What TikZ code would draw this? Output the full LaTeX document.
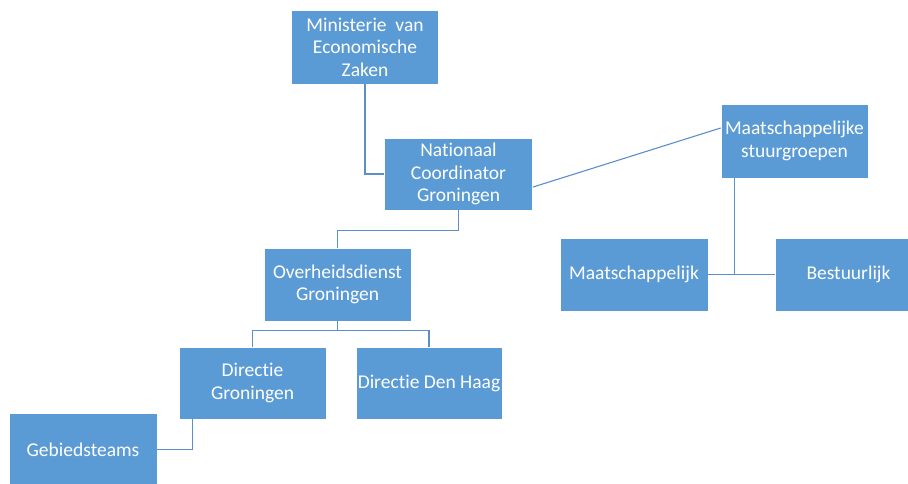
\documentclass[tikz,border=0pt]{standalone}
\usepackage{fontspec}
\setmainfont[Ligatures=NoCommon]{Carlito}
\usetikzlibrary{calc}
\definecolor{boxblue}{HTML}{5B9BD5}
\definecolor{lineblue}{HTML}{5B8FC9}
\tikzset{
  box/.style={fill=boxblue, draw=white, line width=0.6pt, text=white, align=center,
    inner sep=0pt, font=\fontsize{19.5}{22.5}\selectfont},
  conn/.style={draw=lineblue, line width=1.1pt}
}
\begin{document}
\begin{tikzpicture}[x=1pt,y=-1pt]
\useasboundingbox (0,0) rectangle (908,483);
\clip (0,0) rectangle (908,483);
\fill[white] (0,0) rectangle (908,483);
\node[box, minimum width=147, minimum height=74] (min) at (365,47) {Ministerie~ van\\Economische\\Zaken};
\node[box, minimum width=148, minimum height=72] (ncg) at (458.5,174) {Nationaal\\Coordinator\\Groningen};
\node[box, minimum width=147, minimum height=74] (stuur) at (794.5,141) {Maatschappelijke\\stuurgroepen};
\node[box, minimum width=147, minimum height=73] (ovh) at (337.5,284.5) {Overheidsdienst\\Groningen};
\node[box, minimum width=148, minimum height=73] (maat) at (634,274.5) {Maatschappelijk};
\node[box, minimum width=147, minimum height=73] (best) at (848.5,274.5) {Bestuurlijk};
\node[box, minimum width=147, minimum height=72] (dg) at (252.5,383) {Directie\\Groningen};
\node[box, minimum width=146, minimum height=72] (ddh) at (429,383) {Directie Den Haag};
\node[box, minimum width=148, minimum height=73] (geb) at (83,449.5) {Gebiedsteams};

\draw[conn] (min.south) |- (ncg.west);
\draw[conn] (ncg.-10) -- (stuur.170);
\draw[conn] (ncg.south) -- ++(0,20) -| (ovh.north);
\draw[conn] (ovh.south) -- ++(0,9) coordinate (oj);
\draw[conn] (dg.north) |- (oj) -| (ddh.north);
\draw[conn] (maat.east) -- (best.west);
\coordinate (sj) at ($(stuur.south west)+(14,0)$);
\draw[conn] (sj) -- (sj |- maat.east);
\draw[conn] ($(dg.south west)+(14,0)$) |- (geb.east);
\end{tikzpicture}
\end{document}
